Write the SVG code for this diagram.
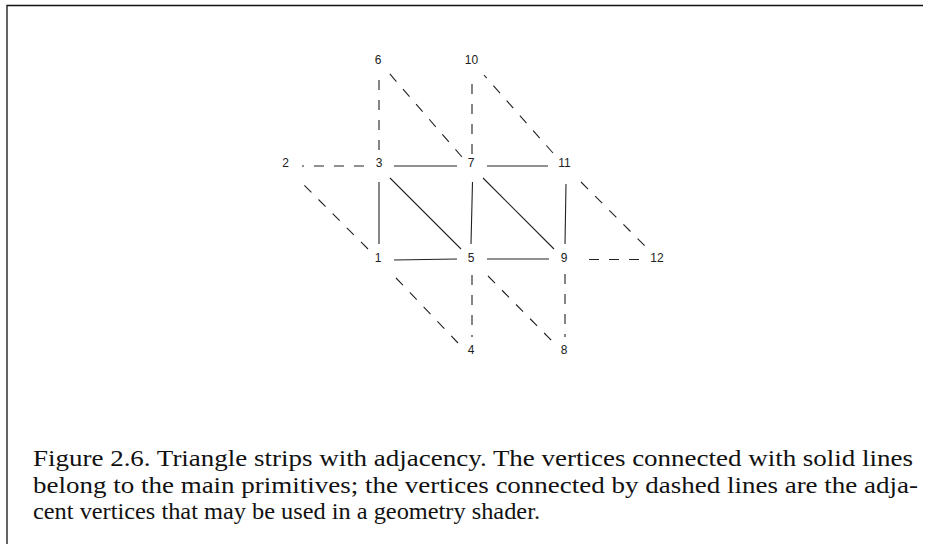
<svg xmlns="http://www.w3.org/2000/svg" width="928" height="544" viewBox="0 0 928 544">
<style>
.lbl{font-family:"Liberation Sans",Arial,sans-serif;font-size:12px;fill:#222;text-anchor:middle}
.cap{font-family:"Liberation Serif","Times New Roman",serif;font-size:24px;fill:#111}
.solid{stroke:#222;stroke-width:1.1;fill:none}
.dash{stroke:#222;stroke-width:1.1;fill:none;stroke-dasharray:10 10}
.frame{stroke:#111;stroke-width:1.3;fill:none}
</style>
<rect width="928" height="544" fill="#fff"/>
<path class="frame" d="M7,544 V5.5 H923"/>
<g id="connectors">
<line class="solid" x1="394" y1="166" x2="457" y2="166"/>
<line class="solid" x1="487" y1="166" x2="548" y2="166"/>
<line class="solid" x1="379" y1="182" x2="379" y2="244"/>
<line class="solid" x1="390" y1="178" x2="461" y2="249"/>
<line class="solid" x1="472.5" y1="182" x2="471" y2="244"/>
<line class="solid" x1="483" y1="178" x2="554" y2="249"/>
<line class="solid" x1="566" y1="184" x2="565" y2="244"/>
<line class="solid" x1="394" y1="260" x2="457" y2="259"/>
<line class="solid" x1="487" y1="259" x2="549" y2="259"/>
<line class="dash" x1="364" y1="166" x2="302" y2="166"/>
<line class="dash" x1="368" y1="249" x2="302" y2="183"/>
<line class="dash" x1="379" y1="150" x2="379" y2="77"/>
<line class="dash" x1="462" y1="157" x2="389" y2="73"/>
<line class="dash" x1="472" y1="154" x2="472" y2="80"/>
<line class="dash" x1="553" y1="153" x2="484" y2="75"/>
<line class="dash" x1="581" y1="182" x2="647" y2="248"/>
<line class="dash" x1="589" y1="259.5" x2="642" y2="259.5"/>
<line class="dash" x1="396" y1="278" x2="458" y2="343"/>
<line class="dash" x1="472" y1="275" x2="472" y2="337"/>
<line class="dash" x1="488" y1="276" x2="554" y2="343"/>
<line class="dash" x1="565" y1="274" x2="565" y2="337"/>
</g>
<g id="v6"><text class="lbl" x="378" y="64">6</text></g>
<g id="v10"><text class="lbl" x="471.5" y="64">10</text></g>
<g id="v2"><text class="lbl" x="285.5" y="167">2</text></g>
<g id="v3"><text class="lbl" x="379" y="167">3</text></g>
<g id="v7"><text class="lbl" x="471" y="167">7</text></g>
<g id="v11"><text class="lbl" x="564.5" y="167">11</text></g>
<g id="v1"><text class="lbl" x="378" y="261.5">1</text></g>
<g id="v5"><text class="lbl" x="471" y="261.5">5</text></g>
<g id="v9"><text class="lbl" x="564" y="261.5">9</text></g>
<g id="v12"><text class="lbl" x="657" y="261.5">12</text></g>
<g id="v4"><text class="lbl" x="471" y="354">4</text></g>
<g id="v8"><text class="lbl" x="564" y="354">8</text></g>
<g id="caption">
<text class="cap" x="33" y="466" textLength="880" lengthAdjust="spacingAndGlyphs">Figure 2.6. Triangle strips with adjacency. The vertices connected with solid lines</text>
<text class="cap" x="33" y="492.5" textLength="885" lengthAdjust="spacingAndGlyphs">belong to the main primitives; the vertices connected by dashed lines are the adja-</text>
<text class="cap" x="33" y="519" textLength="507" lengthAdjust="spacingAndGlyphs">cent vertices that may be used in a geometry shader.</text>
</g>
</svg>
